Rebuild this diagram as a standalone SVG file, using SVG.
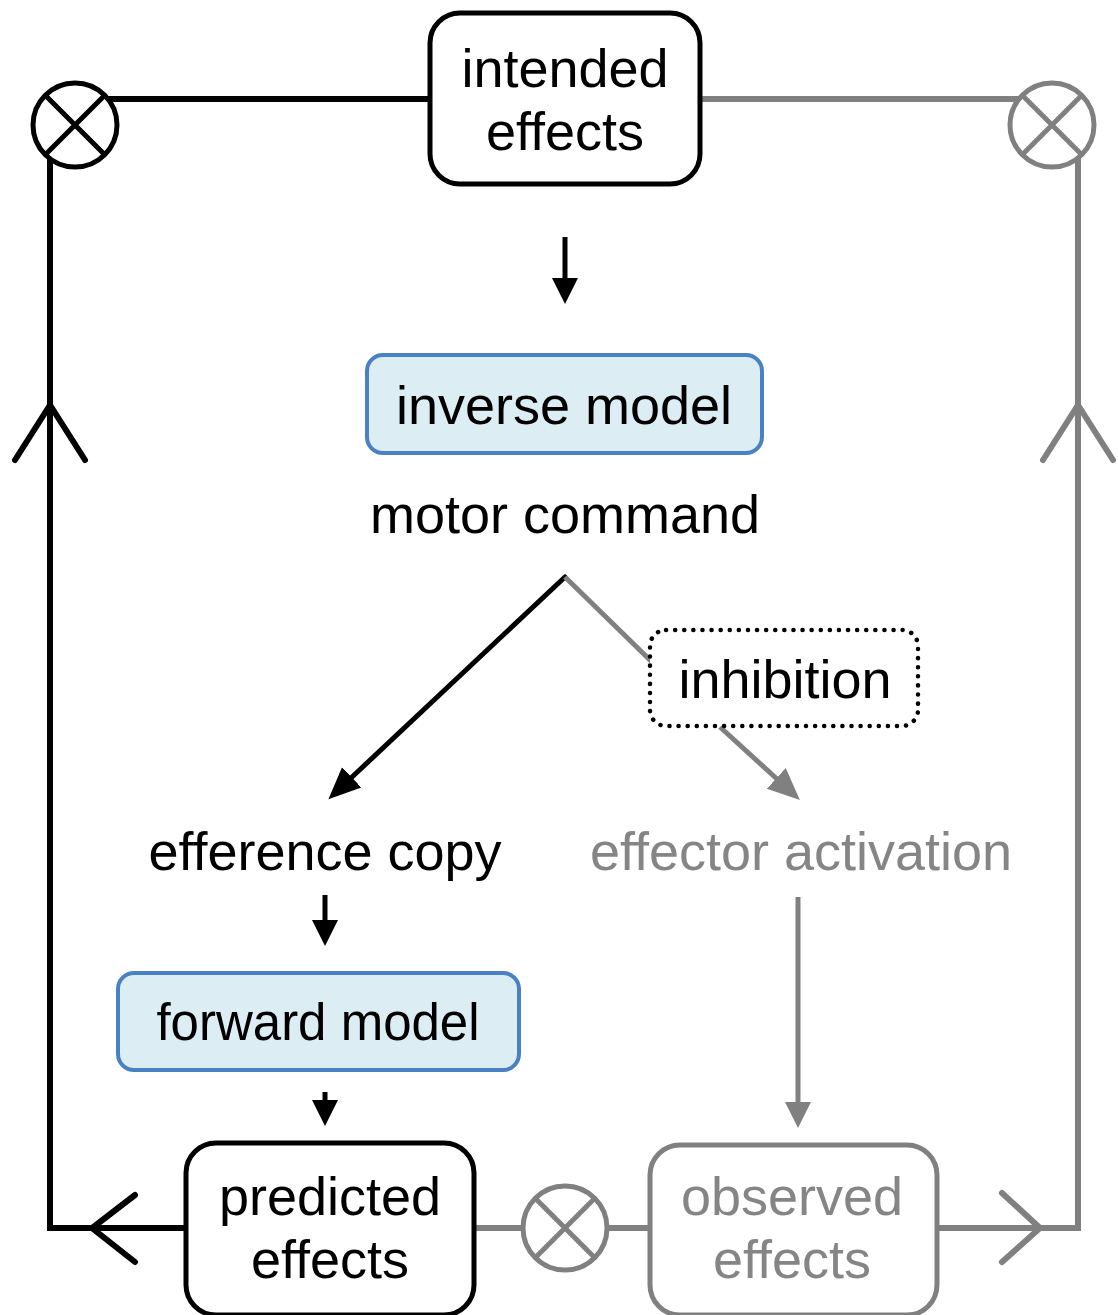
<svg xmlns="http://www.w3.org/2000/svg" width="1118" height="1315" viewBox="0 0 1118 1315">
  <style>
    .lbl { font-family: "Liberation Sans", Arial, sans-serif; font-size: 54px; text-anchor: middle; fill: #000; }
    .lbl.grey { fill: #858585; }
    .box { fill: #fff; stroke: #000; stroke-width: 5; }
    .box.grey { stroke: #808080; }
    .model { fill: #dcedf4; stroke: #4a80c4; stroke-width: 4; }
    .dotted { fill: #fff; stroke: #000; stroke-width: 4.5; stroke-dasharray: 0.1 9; stroke-linecap: round; }
    .wire { fill: none; stroke: #000; stroke-width: 6; stroke-linecap: square; }
    .wire.grey { stroke: #808080; }
    .chev { fill: none; stroke: #000; stroke-width: 6; stroke-linecap: round; stroke-linejoin: miter; }
    .chev.grey { stroke: #808080; }
    .cmp circle { fill: #fff; }
    .arrow { stroke: #000; stroke-width: 5; fill: none; }
    .arrow.grey { stroke: #808080; }
  </style>
  <defs>
    <!-- heads are attached at their base; the shaft stops where the head begins -->
    <marker id="head" markerUnits="userSpaceOnUse" markerWidth="28" markerHeight="28" viewBox="0 0 28 28" refX="1" refY="13" orient="auto">
      <path d="M0,0 L26,13 L0,26 Z" fill="#000"/>
    </marker>
    <marker id="headBig" markerUnits="userSpaceOnUse" markerWidth="34" markerHeight="34" viewBox="0 0 34 34" refX="1" refY="16" orient="auto">
      <path d="M0,2 L32,16 L0,30 Z" fill="#000"/>
    </marker>
    <marker id="headGrey" markerUnits="userSpaceOnUse" markerWidth="34" markerHeight="34" viewBox="0 0 34 34" refX="1" refY="16" orient="auto">
      <path d="M0,2 L32,16 L0,30 Z" fill="#808080"/>
    </marker>
    <marker id="headGreySm" markerUnits="userSpaceOnUse" markerWidth="28" markerHeight="28" viewBox="0 0 28 28" refX="1" refY="13" orient="auto">
      <path d="M0,0 L26,13 L0,26 Z" fill="#808080"/>
    </marker>
  </defs>

  <!-- feedback wiring and flow arrows -->
  <g id="connectors">
    <!-- black loop: intended effects -> left comparator -> down -> predicted effects -->
    <path class="wire" d="M430,99 H108"/>
    <path class="wire" d="M50,160 V1228 H186"/>
    <path class="chev" d="M15,460 L50,405 L85,460"/>
    <path class="chev" d="M135,1195 L92,1228 L135,1262"/>

    <!-- grey loop: intended effects -> right comparator; observed effects -> up -->
    <path class="wire grey" d="M700,99 H1018"/>
    <path class="wire grey" d="M937,1228 H1078 V160"/>
    <path class="chev grey" d="M1043,460 L1078,405 L1113,460"/>
    <path class="chev grey" d="M1002,1193 L1040,1228 L1002,1262"/>

    <!-- bottom comparison between predicted and observed -->
    <path class="wire grey" d="M474,1228 H522"/>
    <path class="wire grey" d="M608,1228 H650"/>

    <!-- vertical flow -->
    <line class="arrow" x1="565" y1="237" x2="565" y2="279" marker-end="url(#head)"/>
    <line class="arrow" x1="325" y1="895" x2="325" y2="921" marker-end="url(#head)"/>
    <line class="arrow" x1="325" y1="1092" x2="325" y2="1101" marker-end="url(#head)"/>
    <line class="arrow grey" x1="798" y1="897" x2="798" y2="1103" marker-end="url(#headGreySm)"/>

    <!-- split of the motor command -->
    <line class="arrow" x1="565" y1="577" x2="351" y2="778" stroke-width="6.5" stroke-linecap="round" marker-end="url(#headBig)"/>
    <line class="arrow grey" x1="565" y1="577" x2="652" y2="662" stroke-width="6.5"/>
    <line class="arrow grey" x1="720" y1="727" x2="777" y2="779" stroke-width="6.5" marker-end="url(#headGrey)"/>
  </g>

  <!-- comparators -->
  <g id="cmp-left" class="cmp">
    <circle cx="75" cy="125" r="42" stroke="#000" stroke-width="5"/>
    <path d="M45,95 L105,155 M105,95 L45,155" stroke="#000" stroke-width="5"/>
  </g>
  <g id="cmp-right" class="cmp">
    <circle cx="1052" cy="125" r="42" stroke="#808080" stroke-width="5"/>
    <path d="M1022,95 L1082,155 M1082,95 L1022,155" stroke="#808080" stroke-width="5"/>
  </g>
  <g id="cmp-bottom" class="cmp">
    <circle cx="565" cy="1228" r="42" stroke="#808080" stroke-width="5"/>
    <path d="M535,1198 L595,1258 M595,1198 L535,1258" stroke="#808080" stroke-width="5"/>
  </g>

  <g id="intended-effects">
    <rect class="box" x="430" y="13" width="270" height="171" rx="30"/>
    <text class="lbl" x="565" y="87">intended</text>
    <text class="lbl" x="565" y="150">effects</text>
  </g>

  <g id="inverse-model">
    <rect class="model" x="367" y="355" width="395" height="98" rx="16"/>
    <text class="lbl" x="564" y="424">inverse model</text>
  </g>

  <g id="motor-command">
    <text class="lbl" x="565" y="533">motor command</text>
  </g>

  <g id="inhibition">
    <rect class="dotted" x="650" y="630" width="268" height="96" rx="16"/>
    <text class="lbl" x="785" y="698">inhibition</text>
  </g>

  <g id="efference-copy">
    <text class="lbl" x="325" y="870">efference copy</text>
  </g>

  <g id="effector-activation">
    <text class="lbl grey" x="801" y="870">effector activation</text>
  </g>

  <g id="forward-model">
    <rect class="model" x="118" y="973" width="401" height="97" rx="16"/>
    <text class="lbl" x="318" y="1040" style="font-size:51px">forward model</text>
  </g>

  <g id="predicted-effects">
    <rect class="box" x="186" y="1143" width="288" height="172" rx="30"/>
    <text class="lbl" x="330" y="1215">predicted</text>
    <text class="lbl" x="330" y="1278">effects</text>
  </g>

  <g id="observed-effects">
    <rect class="box grey" x="650" y="1145" width="287" height="170" rx="30"/>
    <text class="lbl grey" x="792" y="1215">observed</text>
    <text class="lbl grey" x="792" y="1278">effects</text>
  </g>
</svg>
